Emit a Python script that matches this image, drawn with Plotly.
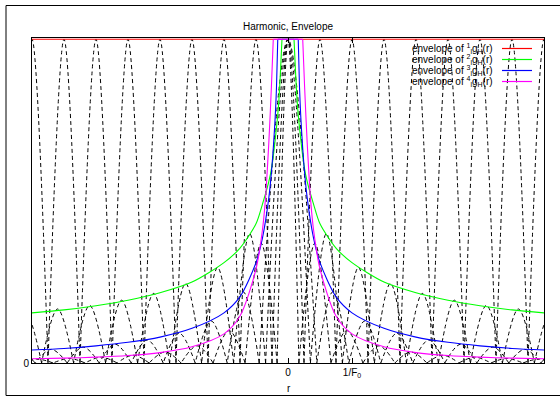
import plotly.graph_objects as go

# ---------------- data (r in units of 1/F0) ----------------
# envelopes (positive side, mirrored for r<0); first point = where the envelope leaves 1
green_env_r = [0.094, 0.12, 0.15, 0.2, 0.25, 0.3, 0.4, 0.5, 0.75, 1.0, 1.5, 2.0, 2.5, 3.0, 3.5, 4.0]
green_env_v = [1.0, 0.89, 0.79, 0.69, 0.61, 0.56, 0.49, 0.43, 0.355, 0.31, 0.25, 0.217, 0.194, 0.177, 0.164, 0.155]

blue_env_r = [0.16, 0.18, 0.2, 0.25, 0.3, 0.4, 0.5, 0.75, 1.0, 1.5, 2.0, 2.5, 3.0, 3.5, 4.0]
blue_env_v = [1.0, 0.85, 0.76, 0.61, 0.51, 0.385, 0.31, 0.205, 0.155, 0.107, 0.08, 0.064, 0.053, 0.045, 0.04]

magenta_env_r = [0.23, 0.26, 0.3, 0.355, 0.4, 0.5, 0.75, 1.0, 1.5, 2.0, 2.5, 3.0, 3.5, 4.0]
magenta_env_v = [1.0, 0.85, 0.68, 0.5, 0.41, 0.29, 0.145, 0.09, 0.05, 0.032, 0.023, 0.018, 0.015, 0.013]

red_env_r = [0.0, 4.0]
red_env_v = [1.0, 1.0]

# harmonic curves: zero crossings (positive side) and arch peak heights
full_edges = [0.25, 0.75, 1.25, 1.75, 2.25, 2.75, 3.25, 3.75, 4.25]
full_peaks = [1.0, 1.0, 1.0, 1.0, 1.0, 1.0, 1.0, 1.0]

green_edges = [0.35, 0.85, 1.35, 1.85, 2.35, 2.85, 3.35, 3.85, 4.35]
green_peaks = [0.40, 0.295, 0.246, 0.215, 0.194, 0.178, 0.167, 0.155]

blue_edges = [0.45, 0.95, 1.45, 1.95, 2.45, 2.95, 3.45, 3.95, 4.45]
blue_peaks = [0.22, 0.13, 0.092, 0.071, 0.058, 0.049, 0.042, 0.037]

magenta_edges = [0.17, 0.67, 1.17, 1.67, 2.17, 2.67, 3.17, 3.67, 4.17]
magenta_peaks = [0.37, 0.10, 0.053, 0.034, 0.024, 0.018, 0.014, 0.012]

center_peak = 1.0

legend_labels = [
    "envelope of <sup>1</sup><sub>l</sub>g<sub>H</sub>(r)",
    "envelope of <sup>2</sup><sub>l</sub>g<sub>H</sub>(r)",
    "envelope of <sup>3</sup><sub>l</sub>g<sub>H</sub>(r)",
    "envelope of <sup>4</sup><sub>l</sub>g<sub>H</sub>(r)",
]
legend_colors = ["#ff0000", "#00ff00", "#0000ff", "#ff00ff"]

x_tickvals = [0, 1]
x_ticktext = ["0", "1/F<sub>0</sub>"]

FONT = "Liberation Sans, Arial, Helvetica, sans-serif"


def sides(r, v):
    xs = [-a for a in reversed(r)] + [None] + list(r)
    ys = list(reversed(v)) + [None] + list(v)
    return xs, ys


def arches(edges, peaks, ch):
    xs, ys = [-edges[0], 0.0, edges[0], None], [0.0, ch, 0.0, None]
    for i, h in enumerate(peaks):
        a, b = edges[i], edges[i + 1]
        m = (a + b) / 2.0
        for s in (1, -1):
            xs += [s * a, s * m, s * b, None]
            ys += [0.0, h, 0.0, None]
    return xs, ys


fig = go.Figure()

for edges, peaks in [(full_edges, full_peaks), (green_edges, green_peaks),
                     (blue_edges, blue_peaks), (magenta_edges, magenta_peaks)]:
    xs, ys = arches(edges, peaks, center_peak)
    fig.add_trace(go.Scatter(x=xs, y=ys, mode="lines", connectgaps=False,
                             line=dict(color="#000000", width=1, dash="4px,3px", shape="spline"),
                             showlegend=False, hoverinfo="skip"))

# red envelope (constant)
fig.add_trace(go.Scatter(x=[-a for a in reversed(red_env_r)] + red_env_r,
                         y=list(reversed(red_env_v)) + red_env_v, mode="lines",
                         line=dict(color=legend_colors[0], width=1.1),
                         showlegend=False, hoverinfo="skip"))

for (r, v), col in zip([(green_env_r, green_env_v), (blue_env_r, blue_env_v),
                        (magenta_env_r, magenta_env_v)], legend_colors[1:]):
    # flat top between the two corners
    fig.add_trace(go.Scatter(x=[-r[0], r[0]], y=[v[0], v[0]], mode="lines",
                             line=dict(color=col, width=1.1),
                             showlegend=False, hoverinfo="skip"))
    xs, ys = sides(r, v)
    fig.add_trace(go.Scatter(x=xs, y=ys, mode="lines", connectgaps=False,
                             line=dict(color=col, width=1.1, shape="spline", smoothing=0.8),
                             showlegend=False, hoverinfo="skip"))

# ---------------- layout ----------------
L, R, T, B = 32, 16, 38, 34
W, H = 560, 397
pw, ph = W - L - R, H - T - B


def px_x(x):
    return (x - L) / pw


def px_y(y):
    return (H - B - y) / ph


annotations = []
shapes = []
row_y = [48.5, 59.5, 70.5, 81.5]
for lab, col, yy in zip(legend_labels, legend_colors, row_y):
    annotations.append(dict(text=lab, xref="paper", yref="paper", x=px_x(495), y=px_y(yy),
                            xanchor="right", yanchor="middle", showarrow=False,
                            font=dict(family=FONT, size=10, color="#000")))
    shapes.append(dict(type="line", xref="paper", yref="paper", x0=px_x(502), x1=px_x(532),
                       y0=px_y(yy), y1=px_y(yy), line=dict(color=col, width=1.2)))

annotations.append(dict(text="Harmonic, Envelope", xref="paper", yref="paper", x=px_x(288), y=px_y(27),
                        xanchor="center", yanchor="middle", showarrow=False,
                        font=dict(family=FONT, size=10, color="#000")))
annotations.append(dict(text="r", xref="paper", yref="paper", x=px_x(289), y=px_y(388),
                        xanchor="center", yanchor="middle", showarrow=False,
                        font=dict(family=FONT, size=10, color="#000")))

# outer frame
shapes.append(dict(type="rect", xref="paper", yref="paper", x0=px_x(6), x1=px_x(600),
                   y0=px_y(395.5), y1=px_y(5.5), line=dict(color="#000", width=1)))

fig.update_layout(
    width=W, height=H,
    margin=dict(l=L, r=R, t=T, b=B, pad=0),
    paper_bgcolor="white", plot_bgcolor="white",
    showlegend=False,
    annotations=annotations, shapes=shapes,
    font=dict(family=FONT, size=10, color="#000"),
)
fig.update_xaxes(range=[-4, 4], tickvals=x_tickvals, ticktext=x_ticktext,
                 ticks="inside", ticklen=5, tickcolor="#000", showgrid=False, zeroline=False,
                 showline=True, linecolor="#000", linewidth=1, mirror="ticks",
                 tickfont=dict(family=FONT, size=10, color="#000"))
fig.update_yaxes(range=[0, 1.004], tickvals=[0], ticktext=["0"],
                 ticks="inside", ticklen=5, tickcolor="#000", showgrid=False, zeroline=False,
                 showline=True, linecolor="#000", linewidth=1, mirror="ticks",
                 tickfont=dict(family=FONT, size=10, color="#000"))

fig.write_html("out.html")
